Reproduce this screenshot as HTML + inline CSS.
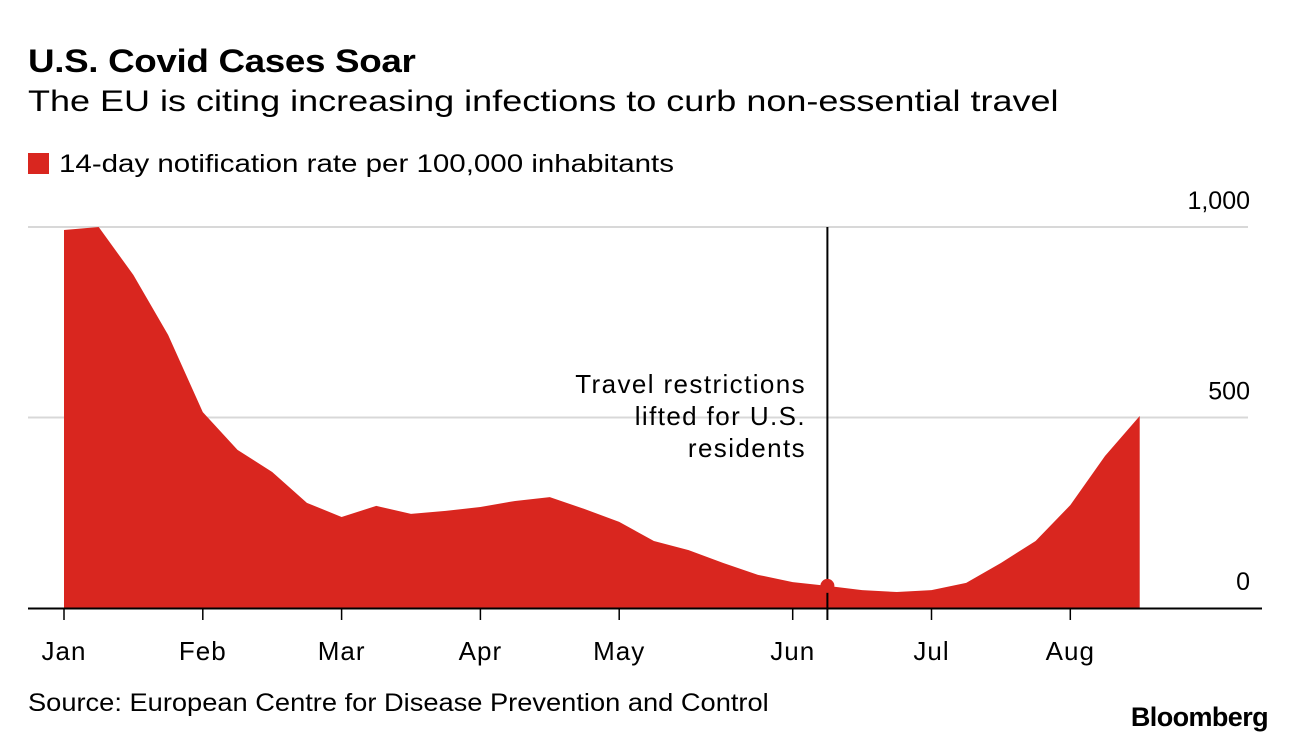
<!DOCTYPE html>
<html><head><meta charset="utf-8"><style>
body{margin:0;background:#fff;font-family:"Liberation Sans",sans-serif;color:#000;}
#wrap{position:relative;width:1296px;height:744px;overflow:hidden;}
.t{position:absolute;white-space:nowrap;transform-origin:0 0;}
</style></head><body>
<div id="wrap">
<div class="t" style="left:28px;top:43px;font-size:32px;font-weight:bold;letter-spacing:-0.3px;transform:scaleX(1.15)">U.S. Covid Cases Soar</div>
<div class="t" style="left:28px;top:85px;font-size:30px;transform:scaleX(1.2)">The EU is citing increasing infections to curb non-essential travel</div>
<div class="t" style="left:28px;top:150px;font-size:25px"><span style="display:inline-block;width:21px;height:21px;background:#d9261f;margin-right:10px;vertical-align:-2px"></span><span style="display:inline-block;transform-origin:0 0;transform:scaleX(1.18)">14-day notification rate per 100,000 inhabitants</span></div>
<div class="t" style="left:28px;top:689px;font-size:25px;transform:scaleX(1.09)">Source: European Centre for Disease Prevention and Control</div>
<div class="t" style="right:28px;top:702px;font-size:27px;font-weight:bold;letter-spacing:-0.6px">Bloomberg</div>
<svg id="svg" width="1296" height="744" style="position:absolute;left:0;top:0"></svg>
</div>
<script>
const values=[992,1000,874,717,514,415,357,276,239,268,247,255,265,281,291,260,226,176,152,118,87,68,58,47,42,47,66,118,176,270,399,504];
const monthLabels=["Jan","Feb","Mar","Apr","May","Jun","Jul","Aug"];
const monthIdx=[0,4,8,12,16,21,25,29];
const yTicks=[0,500,1000];
const yTickLabels=["0","500","1,000"];
const markerIdx=22;
const NS="http://www.w3.org/2000/svg";
const svg=document.getElementById('svg');
const x=i=>64+i*34.7;
const y=v=>608-v*0.381;
function mk(t,a){const e=document.createElementNS(NS,t);for(const k in a)e.setAttribute(k,a[k]);svg.appendChild(e);return e;}
yTicks.forEach((v,k)=>{
 if(v>0){const g=mk('line',{x1:28,x2:1248,y1:y(v),y2:y(v),stroke:'#d8d8d8','stroke-width':2});
 
 }
 const t=mk('text',{x:1250,y:y(v)-18,'text-anchor':'end','font-size':25,'font-family':'Liberation Sans, sans-serif'});
 t.textContent=yTickLabels[k];
 
 
});
let d='M'+x(0)+','+y(0);
values.forEach((v,i)=>{d+=' L'+x(i)+','+y(v);});
d+=' L'+x(values.length-1)+','+y(0)+' Z';
const area=mk('path',{d:d,fill:'#d9261f'});


const ax=mk('line',{x1:28,x2:1262,y1:608.5,y2:608.5,stroke:'#000','stroke-width':2});


monthIdx.forEach((m,k)=>{
 const tk=mk('line',{x1:x(m),x2:x(m),y1:609,y2:620,stroke:'#000','stroke-width':1.5});
 
 
 const t=mk('text',{x:x(m),y:660,'text-anchor':'middle','font-size':26,'letter-spacing':1,'font-family':'Liberation Sans, sans-serif'});
 t.textContent=monthLabels[k];
 
 
});
const vl=mk('line',{x1:x(markerIdx),x2:x(markerIdx),y1:227,y2:620,stroke:'#000','stroke-width':2});


const dot=mk('circle',{cx:x(markerIdx),cy:y(values[markerIdx]),r:7,fill:'#d9261f'});


["Travel restrictions","lifted for U.S.","residents"].forEach((s,k)=>{
 const t=mk('text',{x:806,y:393+k*32,'text-anchor':'end','font-size':26,'letter-spacing':1.4,'font-family':'Liberation Sans, sans-serif'});
 t.textContent=s;
 
 
});
</script>
</body></html>
